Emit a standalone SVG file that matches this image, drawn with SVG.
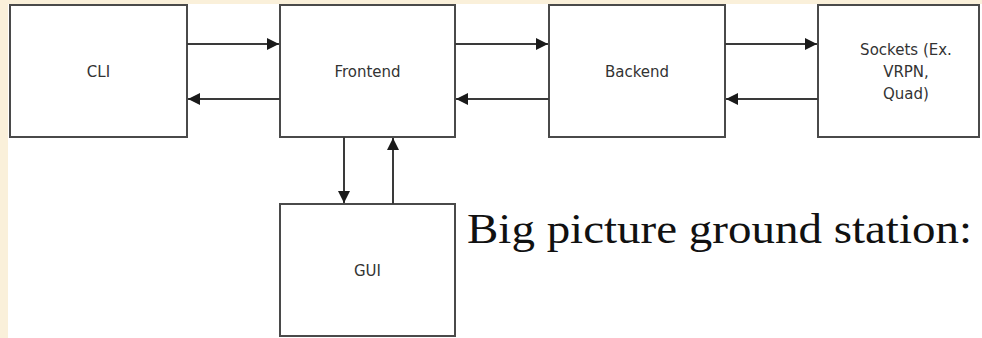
<svg xmlns="http://www.w3.org/2000/svg" width="982" height="338" viewBox="0 0 982 338">
<style>
.box{fill:#ffffff;stroke:#4a4a4a;stroke-width:2}
.lbl{font-family:"DejaVu Sans",Verdana,sans-serif;font-size:15px;fill:#333333;text-anchor:middle}
.con{stroke:#3a3a3a;stroke-width:2;fill:none;marker-end:url(#ah)}
.title{font-family:"Liberation Serif","Times New Roman",serif;font-size:42px;fill:#111111}
</style>
<defs>
<marker id="ah" viewBox="0 0 12 12" refX="12" refY="6" markerWidth="12" markerHeight="12" markerUnits="userSpaceOnUse" orient="auto">
<path d="M0,0 L12,6 L0,12 Z" fill="#1a1a1a"/>
</marker>
</defs>
<rect x="0" y="0" width="982" height="338" fill="#faf0da"/>
<rect x="8" y="4" width="974" height="334" fill="#ffffff"/>
<g id="cli"><rect class="box" x="10" y="5" width="177" height="132"/><text class="lbl" x="98.5" y="77">CLI</text></g>
<g id="frontend"><rect class="box" x="280" y="5" width="175" height="132"/><text class="lbl" x="367.5" y="77">Frontend</text></g>
<g id="backend"><rect class="box" x="549" y="5" width="176" height="132"/><text class="lbl" x="637" y="77">Backend</text></g>
<g id="sockets"><rect class="box" x="818" y="5" width="161" height="132"/><text class="lbl" x="906" y="55">Sockets (Ex.</text><text class="lbl" x="906" y="77">VRPN,</text><text class="lbl" x="906" y="99">Quad)</text></g>
<g id="gui"><rect class="box" x="280" y="204" width="175" height="132"/><text class="lbl" x="367.5" y="276">GUI</text></g>
<g id="connectors">
<line class="con" x1="187" y1="44" x2="279" y2="44"/>
<line class="con" x1="280" y1="99" x2="188" y2="99"/>
<line class="con" x1="455" y1="44" x2="548" y2="44"/>
<line class="con" x1="549" y1="99" x2="456" y2="99"/>
<line class="con" x1="725" y1="44" x2="817" y2="44"/>
<line class="con" x1="818" y1="99" x2="726" y2="99"/>
<line class="con" x1="344" y1="137" x2="344" y2="203"/>
<line class="con" x1="393" y1="204" x2="393" y2="138"/>
</g>
<text class="title" x="467" y="243" textLength="505" lengthAdjust="spacingAndGlyphs">Big picture ground station:</text>
</svg>
